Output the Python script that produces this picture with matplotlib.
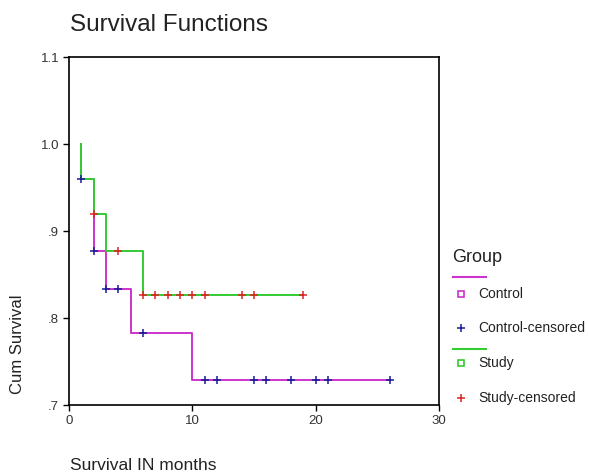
#!/usr/bin/env python3
"""Kaplan-Meier style survival functions, control vs study."""

import matplotlib
matplotlib.use('Agg')
import matplotlib.pyplot as plt
from matplotlib.lines import Line2D

plt.rcParams['font.family'] = ['Liberation Sans', 'DejaVu Sans']

# Step curves (first point is the start at 1.0)
control_times = [1, 1, 2, 3, 5, 10, 26]
control_surv = [1.0, 0.96, 0.877, 0.833, 0.783, 0.729, 0.729]
study_times = [1, 1, 2, 3, 6, 19]
study_surv = [1.0, 0.96, 0.92, 0.877, 0.827, 0.827]

# Censored observations
control_cens_t = [1, 2, 3, 4, 6, 11, 12, 15, 16, 18, 20, 21, 26]
control_cens_s = [0.96, 0.877, 0.833, 0.833, 0.783, 0.729, 0.729,
                  0.729, 0.729, 0.729, 0.729, 0.729, 0.729]
study_cens_t = [2, 4, 6, 7, 8, 9, 10, 11, 14, 15, 19]
study_cens_s = [0.92, 0.877, 0.827, 0.827, 0.827, 0.827, 0.827,
                0.827, 0.827, 0.827, 0.827]

y_ticks = [0.7, 0.8, 0.9, 1.0, 1.1]
y_ticklabels = ['.7', '.8', '.9', '1.0', '1.1']
x_ticks = [0, 10, 20, 30]

MAGENTA = '#cc33cc'
GREEN = '#33cc33'
BLUE = '#1a1a99'
RED = '#dd2222'
TEXT = '#222222'

fig = plt.figure(figsize=(5.89, 4.72), dpi=100)
ax = fig.add_axes([0.1171, 0.1419, 0.6282, 0.7373])

ax.plot(control_times, control_surv, drawstyle='steps-post', color=MAGENTA, lw=1.4)
ax.plot(study_times, study_surv, drawstyle='steps-post', color=GREEN, lw=1.4)
ax.plot(control_cens_t, control_cens_s, ls='none', marker='+', ms=6, mew=1.1, color=BLUE)
ax.plot(study_cens_t, study_cens_s, ls='none', marker='+', ms=6, mew=1.1, color=RED)

ax.set_xlim(0, 30)
ax.set_ylim(0.7, 1.1)
ax.set_xticks(x_ticks)
ax.set_yticks(y_ticks)
ax.set_yticklabels(y_ticklabels)
ax.tick_params(labelsize=9.5, length=4, width=1, color='black', labelcolor='#333333', pad=3)
for s in ax.spines.values():
    s.set_linewidth(1.2)

fig.text(70 / 589, 1 - 25 / 472, 'Survival Functions', fontsize=17.5,
         ha='left', va='center', color=TEXT)
fig.text(18 / 589, 1 - 344 / 472, 'Cum Survival', rotation=90, fontsize=12,
         ha='center', va='center', color=TEXT)
fig.text(70 / 589, 1 - 466 / 472, 'Survival IN months', fontsize=12.5,
         ha='left', va='center', color=TEXT)

# hand-built legend
fig.text(452 / 589, 1 - 257 / 472, 'Group', fontsize=13, ha='left', va='center', color=TEXT)
leg_rows = [
    (294, 's', MAGENTA, 'Control', 277),
    (328, '+', BLUE, 'Control-censored', None),
    (363, 's', GREEN, 'Study', 349),
    (398, '+', RED, 'Study-censored', None),
]
for y, mk, col, label, line_y in leg_rows:
    if line_y is not None:
        fig.add_artist(Line2D([453 / 589, 486 / 589], [1 - line_y / 472] * 2,
                              color=col, lw=1.5, transform=fig.transFigure))
    if mk == 's':
        fig.add_artist(Line2D([461 / 589], [1 - y / 472], marker='s', ms=4.5, mew=1.2,
                              mfc='none', mec=col, transform=fig.transFigure))
    else:
        fig.add_artist(Line2D([461 / 589], [1 - y / 472], marker='+', ms=6, mew=1.1,
                              color=col, transform=fig.transFigure))
    fig.text(478 / 589, 1 - y / 472, label, fontsize=10, ha='left', va='center', color=TEXT)

plt.savefig('out.png', dpi=100)
